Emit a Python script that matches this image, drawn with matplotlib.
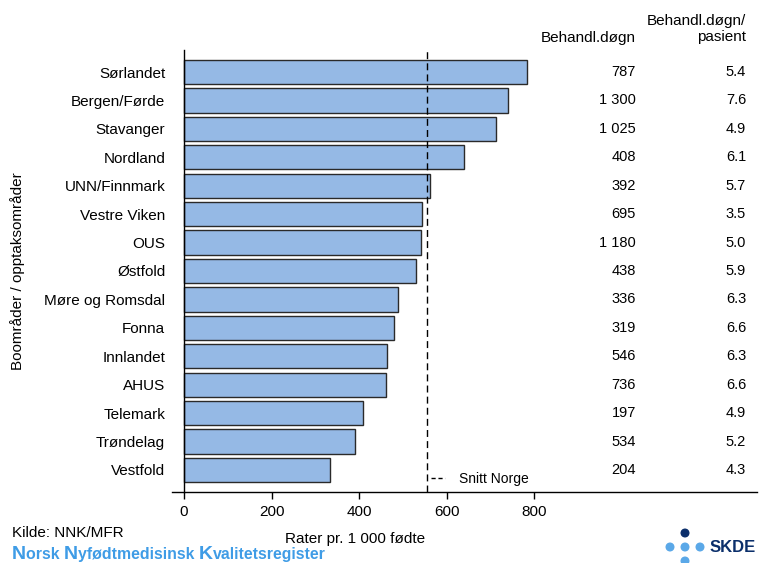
import matplotlib
matplotlib.use("Agg")
import matplotlib.pyplot as plt
from matplotlib.lines import Line2D
from matplotlib.patches import Circle

plt.rcParams['font.family'] = ['Liberation Sans', 'DejaVu Sans']

# ---- data ----
regions = ["Sørlandet", "Bergen/Førde", "Stavanger", "Nordland", "UNN/Finnmark",
           "Vestre Viken", "OUS", "Østfold", "Møre og Romsdal", "Fonna",
           "Innlandet", "AHUS", "Telemark", "Trøndelag", "Vestfold"]
rates = [785, 741, 712, 640, 562, 545, 541, 531, 490, 481, 465, 462, 410, 391, 334]
treat_days = [787, 1300, 1025, 408, 392, 695, 1180, 438, 336, 319, 546, 736, 197, 534, 204]
days_per_patient = [5.4, 7.6, 4.9, 6.1, 5.7, 3.5, 5.0, 5.9, 6.3, 6.6, 6.3, 6.6, 4.9, 5.2, 4.3]
norway_avg = 555
xticks = [0, 200, 400, 600, 800]

W, H = 760, 563
fig = plt.figure(figsize=(W / 100, H / 100), dpi=100)

ax_l, ax_r, ax_t, ax_b = 172, 757, 50, 492
ax = fig.add_axes([ax_l / W, 1 - ax_b / H, (ax_r - ax_l) / W, (ax_b - ax_t) / H])

px = 800 / (534 - 184)  # data units per pixel
ax.set_xlim(-(184 - ax_l) * px, (ax_r - 184) * px)
n = len(regions)
ypos = list(range(n - 1, -1, -1))
ax.set_ylim(-0.774, n - 1 + 0.774)

ax.barh(ypos, rates, height=0.85, color='#95b9e5', edgecolor='#2a2a2a', linewidth=1.0, zorder=2)
ax.axvline(norway_avg, color='black', linestyle=(0, (5, 3)), linewidth=1.0, zorder=3)

ax.spines['top'].set_visible(False)
ax.spines['right'].set_visible(False)
ax.spines['left'].set_position(('data', 0))
ax.spines['left'].set_linewidth(1.0)
ax.spines['bottom'].set_linewidth(1.0)

ax.set_yticks(ypos)
ax.set_yticklabels(regions, fontsize=11)
ax.tick_params(axis='y', length=0, pad=13.5)
ax.set_xticks(xticks)
ax.set_xticklabels([str(t) for t in xticks], fontsize=11)
ax.tick_params(axis='x', length=5, width=1.0, pad=4)

# table columns
col1_x = (636 - 184) * px
col2_x = (746 - 184) * px
for y, d, p in zip(ypos, treat_days, days_per_patient):
    ax.text(col1_x, y, f"{d:,}".replace(",", " "), ha='right', va='center', fontsize=10.5)
    ax.text(col2_x, y, f"{p:.1f}", ha='right', va='center', fontsize=10.5)

fig.text(636 / W, 1 - 38 / H, "Behandl.døgn", ha='right', va='center', fontsize=11)
fig.text(746 / W, 1 - 29 / H, "Behandl.døgn/\npasient", ha='right', va='center',
         fontsize=11, linespacing=1.2, multialignment='right')

# legend
h = Line2D([], [], color='black', linestyle=(0, (3, 2)), linewidth=1.0)
ax.legend([h], ["Snitt Norge"], loc='center left', bbox_to_anchor=((431 - ax_l) / (ax_r - ax_l), (ax_b - 479) / (ax_b - ax_t)),
          frameon=False, fontsize=10, handlelength=1.0, handletextpad=1.0, borderpad=0, borderaxespad=0)

# axis labels
fig.text(355 / W, 1 - 539 / H, "Rater pr. 1 000 fødte", ha='center', va='center', fontsize=11)
fig.text(18 / W, 1 - 271 / H, "Boområder / opptaksområder", rotation=90, ha='center', va='center', fontsize=11)

# source
fig.text(12 / W, 1 - 533 / H, "Kilde: NNK/MFR", ha='left', va='center', fontsize=11)
blue = '#3f9ce6'
parts = [("N", 14), ("orsk ", 11.4), ("N", 14), ("yfødtmedisinsk ", 11.4), ("K", 14), ("valitetsregister", 11.4)]
fig.canvas.draw()
r = fig.canvas.get_renderer()
x = 12
for s, fs in parts:
    tt = fig.text(x / W, 1 - 559 / H, s, ha='left', va='baseline', fontsize=fs, color=blue, fontweight='bold')
    bb = tt.get_window_extent(renderer=r)
    x += bb.width

# SKDE logo
lax = fig.add_axes([660 / W, 0, 100 / W, 40 / H])
lax.set_xlim(660, 760)
lax.set_ylim(563, 523)
lax.set_aspect('equal')
lax.axis('off')
navy = '#0b2f6b'
light = '#5aa8e8'
lax.add_patch(Circle((685, 533), 3.8, color=navy))
for cx in (670, 685, 700):
    lax.add_patch(Circle((cx, 547), 3.8, color=light))
lax.add_patch(Circle((685, 561), 3.8, color=light))
lax.text(710, 547, "SKDE", ha='left', va='center', fontsize=12, fontweight='bold', color=navy)

fig.savefig("out.png", dpi=100)
